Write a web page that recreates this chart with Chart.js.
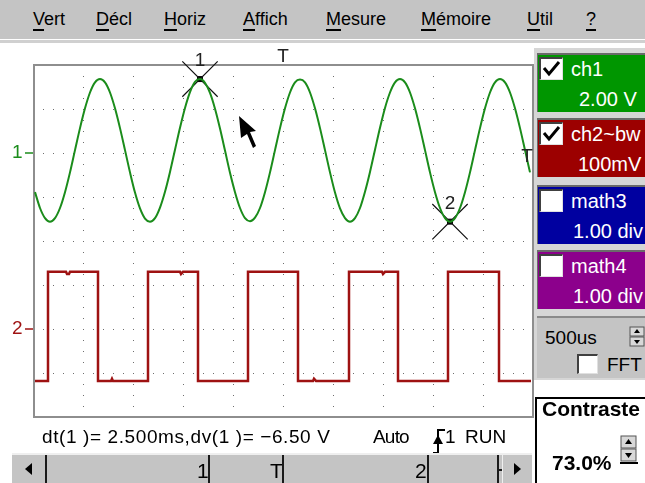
<!DOCTYPE html>
<html>
<head>
<meta charset="utf-8">
<script src="https://cdn.jsdelivr.net/npm/chart.js@4.4.0/dist/chart.umd.min.js"></script>
<style>
body { margin: 0; width: 645px; height: 483px; overflow: hidden; background: #fff; position: relative;
       font-family: "Liberation Sans", Arial, sans-serif; color: #000; }
.a { position: absolute; white-space: nowrap; }
#menu { left: 0; top: 0; width: 645px; height: 39px; background: #c4c4c4; }
#sep { left: 0; top: 40px; width: 645px; height: 3px; background: #d0d0d0; }
.mi { top: 10px; font-size: 18px; line-height: 18px; }
.mi u { text-decoration-thickness: 2px; text-underline-offset: 4px; }
#chartWrap { left: 0; top: 44px; }
#panel { left: 534px; top: 48px; width: 111px; height: 332px; background: #d6d6d6; }
.box { left: 537px; width: 110px; height: 57px; border-top: 2px solid #6a6a6a; border-left: 1px solid #6a6a6a; overflow: hidden; color: #fff; }
.cb { position: absolute; left: 1px; top: 2px; width: 21px; height: 20px; background: #fff;
      border-top: 2px solid #404040; border-left: 2px solid #404040; border-right: 1px solid #e0e0e0; border-bottom: 1px solid #e0e0e0; }
.box .t1 { position: absolute; left: 33px; top: 4px; font-size: 20px; line-height: 20px; }
.box .t2 { position: absolute; top: 34px; font-size: 20px; line-height: 20px; }
#tb { left: 537px; top: 316px; width: 108px; height: 60px; background: #c4c4c4; border-top: 2px solid #8a8a8a; }
.txt { font-size: 19px; line-height: 19px; }
#scroll { left: 12px; top: 453px; width: 520px; height: 30px; background: #c4c4c4; border-top: 2px solid #efefef; }
.mark { top: 0; width: 2px; height: 30px; background: #1a1a1a; }
.slab { top: 5px; font-size: 21px; line-height: 21px; }
#contr { left: 535px; top: 397px; width: 112px; height: 86px; background: #fff; border: 2px solid #000; }
</style>
</head>
<body>
<div id="menu" class="a"></div>
<div id="sep" class="a"></div>
<div class="a mi" style="left:33px"><u>V</u>ert</div>
<div class="a mi" style="left:96px"><u>D</u>écl</div>
<div class="a mi" style="left:164px"><u>H</u>oriz</div>
<div class="a mi" style="left:243px"><u>A</u>ffich</div>
<div class="a mi" style="left:326px"><u>M</u>esure</div>
<div class="a mi" style="left:421px"><u>M</u>émoire</div>
<div class="a mi" style="left:527px"><u>U</u>til</div>
<div class="a mi" style="left:586px"><u>?</u></div>

<div id="panel" class="a"></div>
<div class="a box" style="top:53px;background:#009600">
  <div class="cb"><svg width="21" height="20"><polyline points="3,9 8,15 18,3" stroke="#000" stroke-width="3" fill="none"/></svg></div>
  <div class="t1">ch1</div><div class="t2" style="left:41px">2.00 V</div>
</div>
<div class="a box" style="top:118px;background:#9c0000">
  <div class="cb"><svg width="21" height="20"><polyline points="3,9 8,15 18,3" stroke="#000" stroke-width="3" fill="none"/></svg></div>
  <div class="t1">ch2~bw</div><div class="t2" style="left:40px">100mV</div>
</div>
<div class="a box" style="top:185px;background:#0000a0">
  <div class="cb"></div>
  <div class="t1">math3</div><div class="t2" style="left:35px">1.00 div</div>
</div>
<div class="a box" style="top:250px;background:#8c008c">
  <div class="cb"></div>
  <div class="t1">math4</div><div class="t2" style="left:35px">1.00 div</div>
</div>
<div id="tb" class="a">
  <div class="a txt" style="left:8px;top:10px">500us</div>
  <svg class="a" style="left:92px;top:8px" width="16" height="22">
    <rect x="1" y="1" width="14" height="9" fill="#d8d8d8" stroke="#555"/>
    <rect x="1" y="11" width="14" height="9" fill="#d8d8d8" stroke="#555"/>
    <polygon points="8,3 5,7 11,7" fill="#000"/><polygon points="8,18 5,14 11,14" fill="#000"/>
  </svg>
  <div class="cb" style="left:40px;top:36px;width:18px;height:17px"></div>
  <div class="a txt" style="left:70px;top:37px">FFT</div>
</div>

<div id="chartWrap" class="a"><canvas id="scope" width="535" height="378"></canvas></div>

<svg class="a" style="left:0;top:0" width="645" height="483" pointer-events="none">
  <polygon points="239,116 256,131 250,132 256,146 253,148 247,134 241,138" fill="#000"/>
</svg>

<div class="a txt" style="left:42px;top:427px;letter-spacing:0.6px">dt(1 )= 2.500ms,dv(1 )= −6.50 V</div>
<div class="a txt" style="left:373px;top:427px;letter-spacing:-0.8px">Auto</div>
<svg class="a" style="left:430px;top:426px" width="16" height="30">
  <polyline points="3,27 8,27 8,4 15,4" stroke="#000" stroke-width="2" fill="none"/>
  <polygon points="8,9 3,18 13,18" fill="#000"/>
</svg>
<div class="a txt" style="left:445px;top:427px">1</div>
<div class="a txt" style="left:465px;top:427px">RUN</div>

<div id="scroll" class="a">
  <div class="a" style="left:13px;top:8px;width:0;height:0;border-top:6px solid transparent;border-bottom:6px solid transparent;border-right:7px solid #000"></div>
  <div class="a mark" style="left:33px"></div>
  <div class="a slab" style="left:185px">1</div><div class="a mark" style="left:196px"></div>
  <div class="a slab" style="left:258px">T</div><div class="a mark" style="left:270px"></div>
  <div class="a slab" style="left:403px">2</div><div class="a mark" style="left:415px"></div>
  <div class="a mark" style="left:485px"></div>
  <div class="a" style="left:487px;top:14px;width:4px;height:2px;background:#1a1a1a"></div>
  <div class="a" style="left:490px;top:0;width:1px;height:30px;background:#efefef"></div>
  <div class="a" style="left:502px;top:8px;width:0;height:0;border-top:6px solid transparent;border-bottom:6px solid transparent;border-left:7px solid #000"></div>
</div>

<div id="contr" class="a">
  <div class="a" style="left:5px;top:-1px;font-size:21px;line-height:21px;font-weight:bold">Contraste</div>
  <div class="a" style="left:15px;top:53px;font-size:21px;line-height:21px;font-weight:bold">73.0%</div>
  <svg class="a" style="left:83px;top:36px" width="18" height="30">
    <rect x="1" y="1" width="15" height="12" fill="#d8d8d8" stroke="#555"/>
    <rect x="1" y="14" width="15" height="12" fill="#d8d8d8" stroke="#555"/>
    <polygon points="8.5,4 5,9 12,9" fill="#000"/><polygon points="8.5,23 5,18 12,18" fill="#000"/>
    <line x1="0" y1="28" x2="18" y2="28" stroke="#000" stroke-width="2"/>
  </svg>
</div>

<script>
// ch1: sampled every 0.05 ms starting at 0.02 ms, volts
const ch1Start = 0.02;
const ch1Step = 0.05;
const ch1Volts = [
  -1.78, -2.50, -2.96, -3.12, -2.96, -2.50, -1.78, -0.88, 0.13, 1.13, 2.03, 2.75, 3.21, 3.36, 3.21, 2.75, 2.03, 1.13, 0.13, -0.88,
  -1.80, -2.52, -2.98, -3.12, -2.96, -2.48, -1.76, -0.86, 0.15, 1.15, 2.05, 2.77, 3.23, 3.36, 3.19, 2.73, 2.01, 1.11, 0.11, -0.90,
  -1.78, -2.50, -2.96, -3.10, -2.94, -2.50, -1.78, -0.88, 0.13, 1.13, 2.03, 2.75, 3.21, 3.34, 3.21, 2.75, 2.03, 1.13, 0.13, -0.88,
  -1.80, -2.52, -2.96, -3.12, -2.96, -2.50, -1.76, -0.86, 0.15, 1.15, 2.05, 2.75, 3.21, 3.36, 3.21, 2.75, 2.03, 1.13, 0.13, -0.88,
  -1.78, -2.50, -2.96, -3.12, -2.96, -2.50, -1.78, -0.88, 0.13, 1.13, 2.03, 2.75, 3.21, 3.36, 3.21, 2.75, 2.03, 1.13, 0.13, -0.88
];

// ch2: square wave, edges (ms) and levels (mV), with the small glitches on the flats
const ch2Time = [0.02, 0.15, 0.15, 0.33, 0.34, 0.36, 0.37, 0.65, 0.65, 0.78, 0.79, 0.80, 1.15, 1.15, 1.47, 1.48, 1.50, 1.65, 1.65,
                 2.15, 2.15, 2.65, 2.65, 2.80, 2.81, 2.83, 3.16, 3.16, 3.49, 3.50, 3.52, 3.65, 3.65, 4.15, 4.15, 4.66, 4.66, 4.98];
const ch2mV   = [-118, -118, 130, 130, 125, 125, 130, 130, -118, -118, -113, -118, -118, 130, 130, 125, 130, 130, -118,
                 -118, 130, 130, -118, -118, -113, -118, -118, 130, 130, 125, 130, 130, -118, -118, 130, 130, -118, -118];

// cursors (on ch1)
const cursorTime = [1.67, 4.17];
const cursorVolts = [3.36, -3.12];
const cursorNames = ['1', '2'];

const trigTime = 2.5;   // ms
const trigLevel = 0;    // V on ch1

const ch1VDiv = 2.0, ch1Pos = 2;     // V/div, divisions
const ch2VDiv = 100, ch2Pos = -2;    // mV/div, divisions

const ch1Color = '#1b8c1b';
const ch2Color = '#9e1212';

const toCh1 = v => v / ch1VDiv + ch1Pos;
const toCh2 = v => v / ch2VDiv + ch2Pos;

const scopeDecor = {
  id: 'scopeDecor',
  beforeDatasetsDraw(chart) {
    const { ctx, chartArea: a } = chart;
    ctx.save();
    ctx.strokeStyle = '#8e8e8e';
    ctx.lineWidth = 2;
    ctx.strokeRect(a.left + 1, a.top, a.right - a.left - 1, a.bottom - a.top);
    ctx.restore();
  },
  afterDatasetsDraw(chart) {
    const { ctx, chartArea: a, scales: { x, y } } = chart;
    ctx.save();
    ctx.font = '19px "Liberation Sans", Arial, sans-serif';
    ctx.textBaseline = 'middle';
    // channel ground markers
    const y1 = y.getPixelForValue(ch1Pos), y2 = y.getPixelForValue(ch2Pos);
    ctx.fillStyle = ch1Color; ctx.strokeStyle = ch1Color; ctx.lineWidth = 1.5;
    ctx.textAlign = 'left';
    ctx.fillText('1', 12, y1);
    ctx.beginPath(); ctx.moveTo(25, y1); ctx.lineTo(33, y1); ctx.stroke();
    ctx.fillStyle = ch2Color; ctx.strokeStyle = ch2Color;
    ctx.fillText('2', 12, y2);
    ctx.beginPath(); ctx.moveTo(25, y2); ctx.lineTo(33, y2); ctx.stroke();
    // trigger markers
    ctx.fillStyle = '#222';
    ctx.textAlign = 'center';
    ctx.textBaseline = 'alphabetic';
    ctx.fillText('T', x.getPixelForValue(trigTime), a.top - 3);
    ctx.fillText('T', a.right - 6, y.getPixelForValue(toCh1(trigLevel)) + 9);
    // cursor labels
    cursorTime.forEach((t, i) => {
      ctx.fillText(cursorNames[i], x.getPixelForValue(t), y.getPixelForValue(toCh1(cursorVolts[i])) - 13);
    });
    ctx.restore();
  }
};

new Chart(document.getElementById('scope'), {
  type: 'line',
  data: {
    datasets: [
      {
        data: ch1Volts.map((v, i) => ({ x: ch1Start + i * ch1Step, y: toCh1(v) })),
        borderColor: ch1Color, borderWidth: 2, pointRadius: 0,
        cubicInterpolationMode: 'monotone'
      },
      {
        data: ch2Time.map((t, i) => ({ x: t, y: toCh2(ch2mV[i]) })),
        borderColor: ch2Color, borderWidth: 2.5, pointRadius: 0, tension: 0
      },
      {
        data: cursorTime.map((t, i) => ({ x: t, y: toCh1(cursorVolts[i]) })),
        showLine: false, pointStyle: 'crossRot', pointRadius: 25,
        pointBorderWidth: 1.2, pointBorderColor: '#111', clip: false
      },
      {
        data: cursorTime.map((t, i) => ({ x: t, y: toCh1(cursorVolts[i]) })),
        showLine: false, pointStyle: 'rect', pointRadius: 3.5,
        pointBackgroundColor: '#000', pointBorderColor: '#000', clip: false
      }
    ]
  },
  options: {
    responsive: false,
    animation: false,
    events: [],
    layout: { autoPadding: false, padding: { left: 33, top: 21, right: 2, bottom: 5 } },
    plugins: { legend: { display: false }, tooltip: { enabled: false } },
    scales: {
      x: {
        type: 'linear', min: 0, max: 5,
        ticks: { display: false, stepSize: 0.5 },
        grid: { color: '#6e6e6e', drawTicks: false },
        border: { display: false, dash: [1, 10] },
        afterFit: s => { s.height = 0; }
      },
      y: {
        min: -4, max: 4,
        ticks: { display: false, stepSize: 1 },
        grid: { color: '#6e6e6e', drawTicks: false },
        border: { display: false, dash: [1, 9] },
        afterFit: s => { s.width = 0; }
      }
    }
  },
  plugins: [scopeDecor]
});
</script>
</body>
</html>
